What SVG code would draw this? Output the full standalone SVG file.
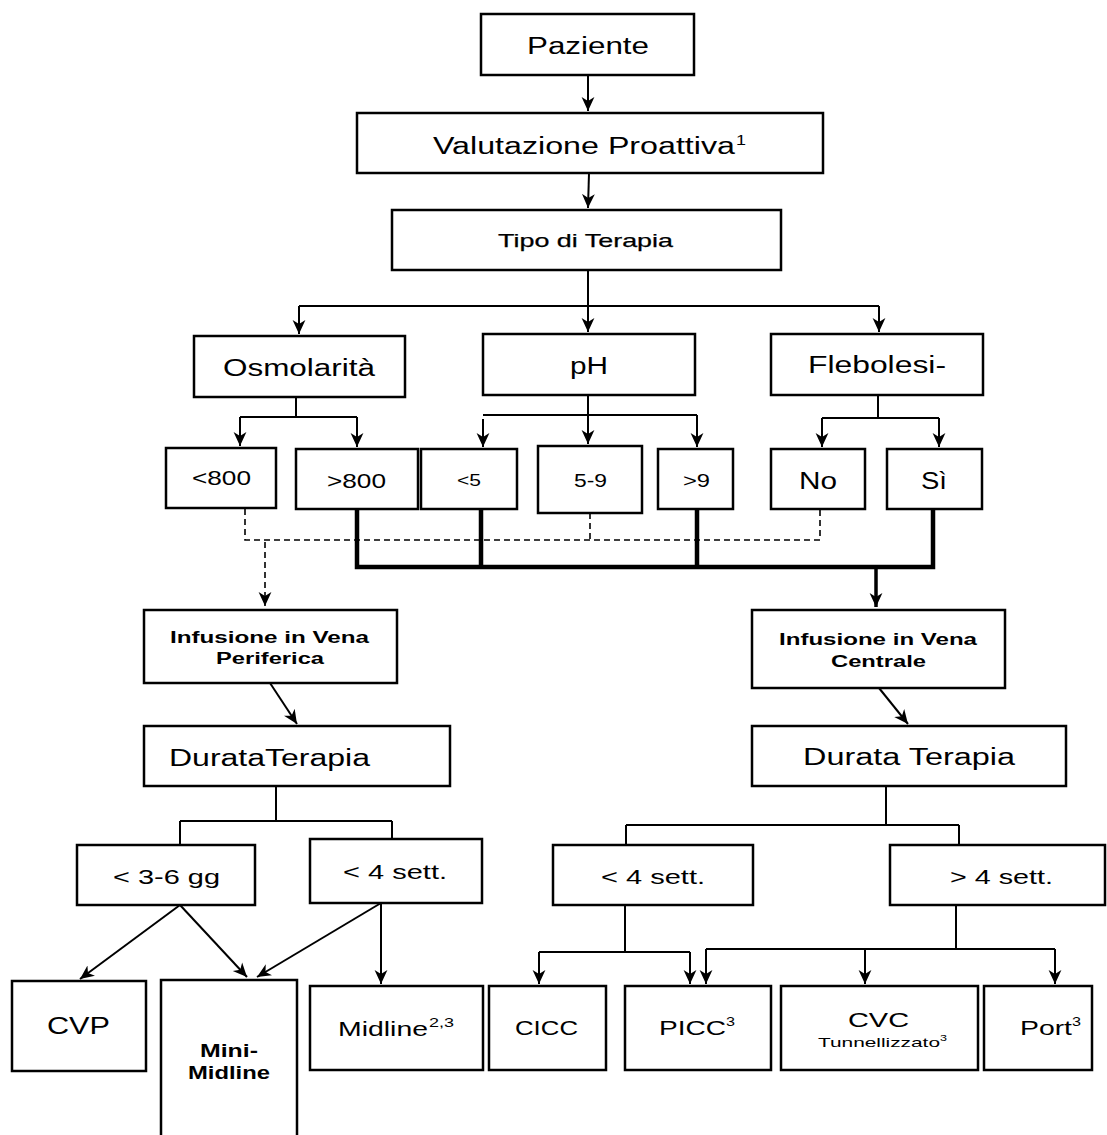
<svg xmlns="http://www.w3.org/2000/svg" width="1107" height="1135" viewBox="0 0 1107 1135">
<style>
  rect.box { fill: #fff; stroke: #000; stroke-width: 2.5; }
  text { font-family: "Liberation Sans", Arial, sans-serif; fill: #000; }
  .big { font-size: 23px; }
  .md2 { font-size: 21px; }
  .mid { font-size: 19px; }
  .sm { font-size: 16px; }
  .b { font-weight: bold; }
  .semi { stroke: #000; stroke-width: 0.25; }
  .ln { fill: none; stroke: #000; stroke-width: 2; }
  .dash { fill: none; stroke: #000; stroke-width: 1.6; stroke-dasharray: 6 4; }
  .thick { fill: none; stroke: #000; stroke-width: 4.5; }
</style>
<defs>
  <marker id="ah" viewBox="0 0 12 12" refX="12" refY="6" markerWidth="14" markerHeight="14" markerUnits="userSpaceOnUse" orient="auto">
    <path d="M0,0.5 L12,6 L0,11.5 L3.5,6 z" fill="#000"/>
  </marker>
</defs>
<rect width="1107" height="1135" fill="#fff"/>

<g id="connectors">
  <path class="ln" d="M588,75 V111" marker-end="url(#ah)"/>
  <path class="ln" d="M589,173 L588,208" marker-end="url(#ah)"/>
  <path class="ln" d="M588,270 V332" marker-end="url(#ah)"/>
  <path class="ln" d="M299,306 H879"/>
  <path class="ln" d="M299,306 V334" marker-end="url(#ah)"/>
  <path class="ln" d="M879,306 V332" marker-end="url(#ah)"/>

  <path class="ln" d="M296,397 V417 M240,417 H357"/>
  <path class="ln" d="M240,417 V446" marker-end="url(#ah)"/>
  <path class="ln" d="M357,417 V447" marker-end="url(#ah)"/>

  <path class="ln" d="M483,415 H697"/>
  <path class="ln" d="M588,395 V444" marker-end="url(#ah)"/>
  <path class="ln" d="M483,419 V447" marker-end="url(#ah)"/>
  <path class="ln" d="M697,415 V447" marker-end="url(#ah)"/>

  <path class="ln" d="M878,395 V418 M822,418 H939"/>
  <path class="ln" d="M822,418 V447" marker-end="url(#ah)"/>
  <path class="ln" d="M939,418 V447" marker-end="url(#ah)"/>

  <path class="dash" d="M245,509 V540 H820 V509 M590,513 V540"/>
  <path class="dash" d="M265,542 V606" marker-end="url(#ah)"/>

  <path class="thick" d="M357,509 V567 H933 V509 M481,509 V567 M697,509 V567"/>
  <path class="ln" style="stroke-width:3.5" d="M876,567 V607" marker-end="url(#ah)"/>

  <path class="ln" d="M270,683 L297,724" marker-end="url(#ah)"/>
  <path class="ln" d="M879,688 L908,724" marker-end="url(#ah)"/>

  <path class="ln" d="M276,786 V821 M180,821 H392 M180,821 V845 M392,821 V841"/>
  <path class="ln" d="M886,786 V825 M626,825 H959 M626,825 V845 M959,825 V845"/>

  <path class="ln" d="M180,905 L80,979" marker-end="url(#ah)"/>
  <path class="ln" d="M180,905 L247,977" marker-end="url(#ah)"/>
  <path class="ln" d="M381,903 L257,977" marker-end="url(#ah)"/>
  <path class="ln" d="M381,903 V984" marker-end="url(#ah)"/>

  <path class="ln" d="M625,905 V952 M539,952 H690"/>
  <path class="ln" d="M539,952 V984" marker-end="url(#ah)"/>
  <path class="ln" d="M690,952 V984" marker-end="url(#ah)"/>

  <path class="ln" d="M956,905 V949 M706,949 H1055"/>
  <path class="ln" d="M706,949 V984" marker-end="url(#ah)"/>
  <path class="ln" d="M865,949 V984" marker-end="url(#ah)"/>
  <path class="ln" d="M1055,949 V984" marker-end="url(#ah)"/>
</g>

<g id="paziente"><rect class="box" x="481" y="14" width="213" height="61"/>
  <text class="big" x="527" y="54" textLength="122" lengthAdjust="spacingAndGlyphs">Paziente</text></g>
<g id="valutazione"><rect class="box" x="357" y="113" width="466" height="60"/>
  <text class="big" x="433" y="154" textLength="302" lengthAdjust="spacingAndGlyphs">Valutazione Proattiva</text>
  <text style="font-size:14px" x="736" y="145" textLength="10" lengthAdjust="spacingAndGlyphs">1</text></g>
<g id="tipo"><rect class="box" x="392" y="210" width="389" height="60"/>
  <text class="mid semi" x="498" y="247" textLength="175" lengthAdjust="spacingAndGlyphs">Tipo di Terapia</text></g>

<g id="osmolarita"><rect class="box" x="194" y="336" width="211" height="61"/>
  <text class="big" x="223" y="376" textLength="152" lengthAdjust="spacingAndGlyphs">Osmolarità</text></g>
<g id="ph"><rect class="box" x="483" y="334" width="212" height="61"/>
  <text class="big" x="570" y="374" textLength="38" lengthAdjust="spacingAndGlyphs">pH</text></g>
<g id="flebolesi"><rect class="box" x="771" y="334" width="212" height="61"/>
  <text class="big" x="808" y="373" textLength="138" lengthAdjust="spacingAndGlyphs">Flebolesi-</text></g>

<g id="lt800"><rect class="box" x="166" y="448" width="110" height="60"/>
  <text class="md2" x="192" y="485" textLength="59" lengthAdjust="spacingAndGlyphs">&lt;800</text></g>
<g id="gt800"><rect class="box" x="296" y="449" width="122" height="60"/>
  <text class="md2" x="327" y="488" textLength="59" lengthAdjust="spacingAndGlyphs">&gt;800</text></g>
<g id="lt5"><rect class="box" x="421" y="449" width="96" height="60"/>
  <text class="sm" x="457" y="486" textLength="24" lengthAdjust="spacingAndGlyphs">&lt;5</text></g>
<g id="ph59"><rect class="box" x="538" y="446" width="104" height="67"/>
  <text class="mid" x="574" y="487" textLength="33" lengthAdjust="spacingAndGlyphs">5-9</text></g>
<g id="gt9"><rect class="box" x="658" y="449" width="75" height="60"/>
  <text class="mid" x="683" y="487" textLength="27" lengthAdjust="spacingAndGlyphs">&gt;9</text></g>
<g id="no"><rect class="box" x="771" y="449" width="94" height="60"/>
  <text class="big" x="799" y="489" textLength="38" lengthAdjust="spacingAndGlyphs">No</text></g>
<g id="si"><rect class="box" x="887" y="449" width="95" height="60"/>
  <text class="big" x="921" y="489" textLength="26" lengthAdjust="spacingAndGlyphs">Sì</text></g>

<g id="periferica"><rect class="box" x="144" y="610" width="253" height="73"/>
  <text class="b" style="font-size:16px" x="170" y="643" textLength="199" lengthAdjust="spacingAndGlyphs">Infusione in Vena</text>
  <text class="b" style="font-size:16px" x="216" y="664" textLength="108" lengthAdjust="spacingAndGlyphs">Periferica</text></g>
<g id="centrale"><rect class="box" x="752" y="610" width="253" height="78"/>
  <text class="b" style="font-size:16px" x="779" y="645" textLength="198" lengthAdjust="spacingAndGlyphs">Infusione in Vena</text>
  <text class="b" style="font-size:16px" x="831" y="667" textLength="95" lengthAdjust="spacingAndGlyphs">Centrale</text></g>

<g id="durata-p"><rect class="box" x="144" y="726" width="306" height="60"/>
  <text class="big" x="169" y="766" textLength="201" lengthAdjust="spacingAndGlyphs">DurataTerapia</text></g>
<g id="durata-c"><rect class="box" x="752" y="726" width="314" height="60"/>
  <text class="big" x="803" y="765" textLength="212" lengthAdjust="spacingAndGlyphs">Durata Terapia</text></g>

<g id="lt36gg"><rect class="box" x="77" y="845" width="178" height="60"/>
  <text class="md2" x="113" y="884" textLength="107" lengthAdjust="spacingAndGlyphs">&lt; 3-6 gg</text></g>
<g id="lt4sett-p"><rect class="box" x="310" y="839" width="172" height="64"/>
  <text class="md2" x="343" y="879" textLength="104" lengthAdjust="spacingAndGlyphs">&lt; 4 sett.</text></g>
<g id="lt4sett-c"><rect class="box" x="553" y="845" width="200" height="60"/>
  <text class="md2" x="601" y="884" textLength="104" lengthAdjust="spacingAndGlyphs">&lt; 4 sett.</text></g>
<g id="gt4sett"><rect class="box" x="890" y="845" width="215" height="60"/>
  <text class="md2" x="950" y="884" textLength="103" lengthAdjust="spacingAndGlyphs">&gt; 4 sett.</text></g>

<g id="cvp"><rect class="box" x="12" y="981" width="134" height="90"/>
  <text class="big" x="47" y="1034" textLength="63" lengthAdjust="spacingAndGlyphs">CVP</text></g>
<g id="minimidline"><rect class="box" x="161" y="980" width="136" height="170"/>
  <text class="b" style="font-size:18px" x="200" y="1057" textLength="58" lengthAdjust="spacingAndGlyphs">Mini-</text>
  <text class="b" style="font-size:18px" x="188" y="1079" textLength="82" lengthAdjust="spacingAndGlyphs">Midline</text></g>
<g id="midline"><rect class="box" x="310" y="986" width="173" height="84"/>
  <text class="md2" x="338" y="1036" textLength="90" lengthAdjust="spacingAndGlyphs">Midline</text>
  <text style="font-size:13px" x="429" y="1027" textLength="25" lengthAdjust="spacingAndGlyphs">2,3</text></g>
<g id="cicc"><rect class="box" x="489" y="986" width="117" height="84"/>
  <text class="md2" x="515" y="1035" textLength="63" lengthAdjust="spacingAndGlyphs">CICC</text></g>
<g id="picc"><rect class="box" x="625" y="986" width="146" height="84"/>
  <text class="md2" x="659" y="1035" textLength="67" lengthAdjust="spacingAndGlyphs">PICC</text>
  <text style="font-size:13px" x="726" y="1026" textLength="9" lengthAdjust="spacingAndGlyphs">3</text></g>
<g id="cvc"><rect class="box" x="781" y="986" width="197" height="84"/>
  <text class="md2" x="848" y="1027" textLength="61" lengthAdjust="spacingAndGlyphs">CVC</text>
  <text style="font-size:13px" x="818" y="1047" textLength="122" lengthAdjust="spacingAndGlyphs">Tunnellizzato</text>
  <text style="font-size:9px" x="940" y="1041" textLength="7" lengthAdjust="spacingAndGlyphs">3</text></g>
<g id="port"><rect class="box" x="984" y="986" width="108" height="84"/>
  <text class="md2" x="1020" y="1035" textLength="52" lengthAdjust="spacingAndGlyphs">Port</text>
  <text style="font-size:13px" x="1072" y="1026" textLength="9" lengthAdjust="spacingAndGlyphs">3</text></g>
</svg>
